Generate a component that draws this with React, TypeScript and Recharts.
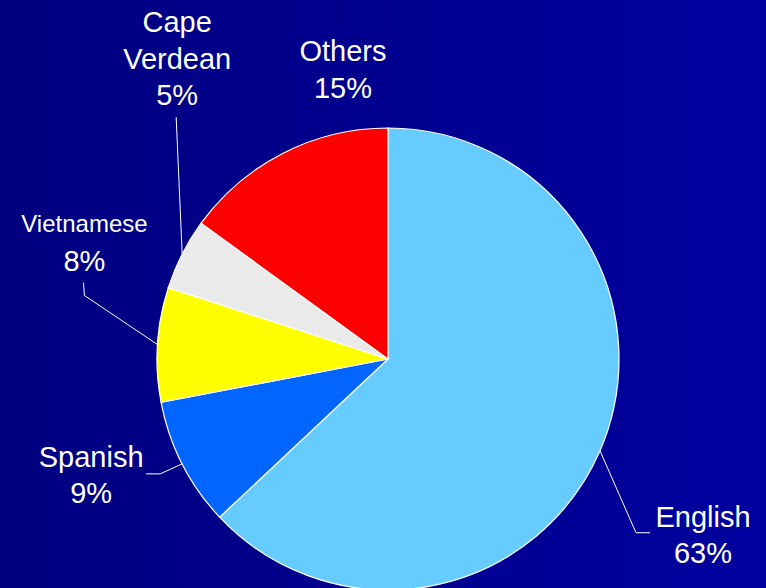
import React from "react";
import { PieChart, Pie, Cell } from "recharts";

const languages = ["English", "Spanish", "Vietnamese", "Cape Verdean", "Others"];
const shares = [63, 9, 8, 5, 15];
const sliceColors = ["#66CCFF", "#0066FF", "#FFFF00", "#EAEAEA", "#FF0000"];
const labelLines = [["English"], ["Spanish"], ["Vietnamese"], ["Cape", "Verdean"], ["Others"]];

const data = languages.map((name, i) => ({ name, value: shares[i] }));

// label layout relative to the slice's anchor on the rim (dx, dy offsets)
const layout = [
  { text: [103, 76], fs: 29, line: [[36, 82], [50, 82]] },
  { text: [-91, 3], fs: 29, line: [[-22, 10], [-36, 10]] },
  { text: [-73, -112], fs: 29, line: [[-73, -49], [-74, -62]], firstFs: 24 },
  { text: [-5, -222], fs: 29, line: [[-6, -137]] },
  { text: [0, 0], fs: 29, line: [] },
];

const RADIAN = Math.PI / 180;

const renderLabel = (props: any) => {
  const { cx, cy, midAngle, outerRadius, index, percent } = props;
  const ax = cx + outerRadius * Math.cos(-midAngle * RADIAN);
  const ay = cy + outerRadius * Math.sin(-midAngle * RADIAN);
  const L = layout[index];
  const lines = labelLines[index];
  const pct = `${Math.round(percent * 100)}%`;
  let tx = ax + L.text[0];
  let ty = ay + L.text[1];
  if (index === 4) {
    // Others: placed above the slice, no leader line
    tx = cx - 45;
    ty = cy - 298;
  }
  const pts = [[ax, ay], ...L.line.map(([dx, dy]) => [ax + dx, ay + dy])];
  const firstFs = (L as any).firstFs || L.fs;
  const spacing = index === 2 ? 39 : 36.5;
  return (
    <g>
      {pts.length > 1 && (
        <polyline
          points={pts.map((p) => p.join(",")).join(" ")}
          fill="none"
          stroke="#FFFFFF"
          strokeWidth={1}
        />
      )}
      {lines.map((t, k) => (
        <text
          key={k}
          x={tx}
          y={ty + k * spacing}
          fill="#FFFFFF"
          textAnchor="middle"
          fontFamily="Liberation Sans, Arial, sans-serif"
          fontSize={k === 0 ? firstFs : L.fs}
        >
          {t}
        </text>
      ))}
      <text
        x={tx}
        y={ty + lines.length * spacing}
        fill="#FFFFFF"
        textAnchor="middle"
        fontFamily="Liberation Sans, Arial, sans-serif"
        fontSize={29}
      >
        {pct}
      </text>
    </g>
  );
};

export default function App() {
  return (
    <div
      style={{
        position: "fixed",
        left: 0,
        top: 0,
        width: 766,
        height: 588,
        background: "linear-gradient(to right, #000080, #00009F)",
        overflow: "hidden",
      }}
    >
      <PieChart width={766} height={588} margin={{ top: 0, right: 0, bottom: 0, left: 0 }}>
        <Pie
          data={data}
          dataKey="value"
          nameKey="name"
          cx={388}
          cy={359}
          outerRadius={231}
          startAngle={90}
          endAngle={-270}
          stroke="#FFFFFF"
          strokeWidth={1.2}
          label={renderLabel}
          labelLine={false}
          isAnimationActive={false}
        >
          {data.map((d, i) => (
            <Cell key={d.name} fill={sliceColors[i]} />
          ))}
        </Pie>
      </PieChart>
    </div>
  );
}
